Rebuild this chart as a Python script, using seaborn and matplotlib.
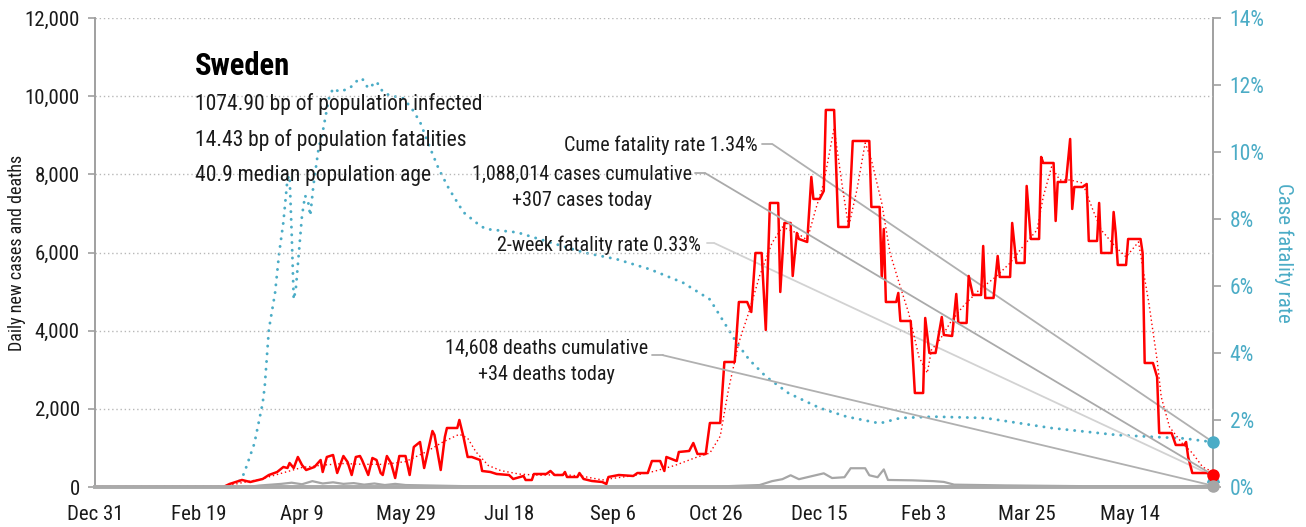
from __future__ import annotations

import matplotlib

matplotlib.use("Agg")
import matplotlib.dates as mdates
import matplotlib.pyplot as plt
import pandas as pd
import seaborn as sns
from matplotlib.ticker import FuncFormatter

START = pd.Timestamp("2019-12-31")

# Daily new cases (vertices), day offset from Dec 31 2019
case_day = [
    0, 62, 65, 71, 75, 81, 84, 88, 91, 93,
    94, 96, 98, 100, 102, 106, 109, 110, 112, 115,
    117, 120, 122, 124, 126, 128, 129, 132, 134, 136,
    138, 139, 141, 143, 145, 147, 150, 152, 154, 157,
    159, 163, 164, 167, 169, 170, 175, 176, 178, 180,
    182, 186, 187, 191, 194, 200, 202, 207, 208, 211,
    212, 218, 220, 222, 226, 227, 228, 233, 234, 236,
    240, 245, 247, 248, 253, 260, 262, 267, 269, 273,
    275, 276, 281, 282, 287, 289, 291, 295, 297, 302,
    304, 309, 311, 315, 317, 319, 322, 324, 326, 330,
    331, 333, 336, 337, 339, 340, 344, 346, 347, 350,
    352, 353, 357, 359, 364, 366, 374, 375, 379, 380,
    381, 382, 387, 388, 389, 394, 396, 400, 401, 403,
    406, 409, 410, 414, 416, 417, 421, 422, 424, 428,
    429, 430, 434, 436, 437, 442, 443, 445, 449, 450,
    452, 456, 457, 458, 463, 464, 465, 469, 471, 472,
    473, 477, 479, 480, 484, 485, 486, 491, 492, 493,
    494, 498, 499, 505, 506, 507, 511, 513, 514, 520,
    522, 526, 527, 528, 530, 537, 540,
]
case_val = [
    0, 0, 77, 180, 128, 205, 307, 384, 512, 486,
    614, 486, 768, 563, 435, 512, 691, 384, 768, 819,
    358, 793, 640, 307, 768, 793, 691, 307, 742, 691,
    358, 307, 793, 614, 230, 793, 793, 307, 1024, 1152,
    486, 1433, 1331, 435, 1280, 1510, 1510, 1715, 1280, 768,
    768, 691, 410, 384, 333, 307, 205, 282, 179, 179,
    333, 333, 410, 307, 307, 384, 256, 256, 358, 205,
    154, 128, 77, 256, 307, 282, 358, 358, 665, 665,
    410, 768, 665, 896, 922, 1126, 845, 845, 1638, 1638,
    3199, 3199, 4734, 4734, 4478, 5988, 5988, 4018, 7268, 7268,
    4990, 6756, 6756, 5399, 6500, 6346, 6270, 7933, 7370, 7370,
    7575, 9648, 9648, 6653, 6653, 8854, 8854, 7165, 7165, 5374,
    6602, 4734, 4734, 4965, 4248, 4248, 2405, 2405, 4325, 3429,
    3429, 4350, 3890, 3864, 4939, 4197, 4197, 5400, 4913, 4913,
    6167, 4837, 4837, 5911, 5374, 5374, 6756, 5732, 5732, 7703,
    6346, 6346, 8445, 8291, 8291, 6807, 7805, 7805, 8905, 7114,
    7677, 7677, 7754, 6295, 6295, 7268, 5988, 5988, 7037, 6500,
    5681, 5681, 6346, 6346, 5988, 3173, 3173, 2815, 1382, 1382,
    1075, 1075, 1152, 768, 358, 358, 307,
]

# 7-day average of new cases
avg_day = [
    0, 62, 70, 80, 90, 100, 110, 120, 130, 140,
    150, 160, 168, 176, 180, 184, 190, 196, 205, 215,
    225, 235, 245, 250, 260, 270, 280, 290, 297, 302,
    306, 311, 316, 321, 327, 332, 339, 344, 348, 352,
    357, 361, 364, 368, 372, 375, 380, 384, 389, 393,
    398, 402, 404, 408, 413, 419, 427, 435, 442, 448,
    455, 458, 462, 466, 471, 477, 482, 486, 493, 498,
    504, 509, 513, 515, 519, 525, 530, 535, 540,
]
avg_val = [
    0, 0, 100, 200, 350, 500, 560, 600, 580, 580,
    650, 900, 1150, 1350, 1250, 900, 550, 420, 330, 300,
    320, 280, 180, 220, 290, 400, 550, 750, 870, 1300,
    2500, 3700, 4500, 5400, 6244, 6653, 6500, 6320, 7088, 7780,
    9187, 7677, 6653, 7600, 8803, 8368, 7268, 5988, 5118, 4453,
    3327, 2917, 3506, 3762, 4197, 4606, 5041, 5374, 5732, 6141,
    6577, 7421, 8189, 7856, 7856, 7780, 7088, 6577, 6141, 5886,
    6270, 4709, 3250, 2303, 1535, 1126, 870, 512, 384,
]

# Daily new deaths
death_day = [
    0, 70, 75, 80, 85, 90, 95, 100, 105, 110,
    115, 120, 125, 130, 135, 140, 145, 150, 160, 170,
    180, 190, 200, 220, 250, 280, 300, 310, 321, 327,
    332, 336, 340, 344, 348, 352, 356, 362, 365, 372,
    374, 378, 381, 383, 395, 405, 410, 415, 440, 480,
    520, 540,
]
death_val = [
    0, 0, 10, 40, 60, 80, 110, 70, 150, 90,
    120, 80, 100, 60, 90, 50, 80, 50, 40, 30,
    20, 10, 5, 3, 2, 5, 10, 30, 50, 150,
    200, 300, 200, 250, 300, 350, 230, 250, 480, 480,
    300, 250, 450, 180, 170, 150, 130, 60, 40, 20,
    10, 34,
]

# Cumulative case fatality rate (%), right axis
cfr_day = [
    0, 67, 70, 72, 77, 81, 82, 84, 87, 89,
    91, 93, 94, 95, 96, 97, 98.5, 100, 101.5, 103,
    104, 105.5, 108, 110, 113, 115, 118, 123, 126, 129,
    132, 136, 139, 142, 149, 153, 157, 162, 166, 171,
    178, 186, 189, 204, 220, 236, 252, 268, 284, 297,
    303, 310, 316, 324, 335, 350, 363, 379, 389, 405,
    430, 462, 494, 526, 540,
]
cfr_val = [
    0, 0, 0.2, 0.4, 1.3, 2.5, 3.0, 4.7, 5.8, 7.0,
    7.9, 9.2, 9.3, 7.6, 5.6, 5.9, 7.0, 8.1, 8.7, 8.5,
    8.1, 9.0, 10.1, 10.6, 11.6, 11.9, 11.8, 11.9, 12.1, 12.2,
    11.9, 12.1, 11.8, 11.7, 11.6, 11.3, 10.9, 10.1, 9.5, 8.9,
    8.2, 7.8, 7.7, 7.6, 7.3, 7.0, 6.8, 6.5, 6.1, 5.6,
    5.0, 4.3, 3.8, 3.3, 2.8, 2.36, 2.1, 1.9, 2.06, 2.1,
    2.06, 1.76, 1.55, 1.45, 1.34,
]

today_cases = 307
today_deaths = 34
cume_cfr = 1.34
two_week_cfr = 0.33
last_day = 540

info_lines = [
    "1074.90 bp of population infected",
    "14.43 bp of population fatalities",
    "40.9 median population age",
]

RED = "#ff0000"
TEAL = "#4bacc6"
GREY = "#a6a6a6"
TXT = "#1a1a1a"


def to_dates(days):
    return START + pd.to_timedelta(days, unit="D")


sns.set_theme(style="white")
plt.rcParams["font.family"] = ["Roboto Condensed", "DejaVu Sans"]

fig = plt.figure(figsize=(13.06, 5.27), dpi=100)
ax = fig.add_axes([0.0727, 0.0759, 0.8561, 0.8899])
ax2 = ax.twinx()

cases = pd.DataFrame({"date": to_dates(case_day), "value": case_val})
avg = pd.DataFrame({"date": to_dates(avg_day), "value": avg_val})
deaths = pd.DataFrame({"date": to_dates(death_day), "value": death_val})
cfr = pd.DataFrame({"date": to_dates(cfr_day), "value": cfr_val})

sns.lineplot(data=cfr, x="date", y="value", ax=ax2, color=TEAL, linewidth=2.1,
             linestyle=(0, (0.05, 2.6)), dash_capstyle="round", legend=False)
sns.lineplot(data=deaths, x="date", y="value", ax=ax, color=GREY, linewidth=1.6, legend=False)
sns.lineplot(data=cases, x="date", y="value", ax=ax, color=RED, linewidth=1.8, legend=False)
sns.lineplot(data=avg, x="date", y="value", ax=ax, color=RED, linewidth=1.0,
             linestyle=(0, (1, 2)), legend=False)

end = to_dates([last_day])[0]
end_num = mdates.date2num(end)
ax.plot([end], [today_cases], "o", color=RED, ms=8, clip_on=False, zorder=6)
ax.plot([end], [today_deaths], "o", color=GREY, ms=8, clip_on=False, zorder=6)
ax2.plot([end], [cume_cfr], "o", color=TEAL, ms=8, clip_on=False, zorder=6)
ax2.plot([end], [two_week_cfr], "^", color=TEAL, ms=9, clip_on=False, zorder=6)

ax.set_zorder(ax2.get_zorder() + 1)
ax.patch.set_visible(False)

ax.set_xlim(START, end)
ax.set_ylim(0, 12000)
ax2.set_ylim(0, 14)
ticks = pd.date_range(START, periods=11, freq="50D")
ax.set_xticks(ticks)
ax.set_xticklabels([f"{d:%b} {d.day}" for d in ticks])
ax.set_yticks(range(0, 12001, 2000))
ax.yaxis.set_major_formatter(FuncFormatter(lambda v, _: f"{v:,.0f}"))
ax2.set_yticks(range(0, 15, 2))
ax2.yaxis.set_major_formatter(FuncFormatter(lambda v, _: f"{v:.0f}%"))

ax.yaxis.grid(True, linestyle=(0, (1, 2)), color="#b8b8b8", linewidth=1.0)
ax.xaxis.grid(False)
ax.set_xlabel("")
ax.set_ylabel("Daily new cases and deaths", fontsize=13, color=TXT)
ax.yaxis.set_label_coords(-0.0617, 0.5)
ax2.set_ylabel("Case fatality rate", fontsize=15, color=TEAL, rotation=270)
ax2.yaxis.set_label_coords(1.072, 0.5)

for a in (ax, ax2):
    for s in a.spines.values():
        s.set_visible(False)
ax.spines["left"].set_visible(True)
ax.spines["left"].set_color("#a0a0a0")
ax.spines["left"].set_linewidth(1.4)
ax.spines["bottom"].set_visible(True)
ax.spines["bottom"].set_color("#aaaaaa")
ax.spines["bottom"].set_linewidth(2.8)
ax2.spines["right"].set_visible(True)
ax2.spines["right"].set_color("#a0a0a0")
ax2.spines["right"].set_linewidth(1.4)

ax.tick_params(axis="x", direction="out", length=6, width=1.4, color="#a0a0a0",
               labelsize=15, labelcolor=TXT, pad=7)
ax.tick_params(axis="y", direction="out", length=5, width=1.2, color="#a0a0a0",
               labelsize=15, labelcolor=TXT, pad=6)
ax2.tick_params(axis="y", direction="out", length=6, width=1.2, color="#a0a0a0",
                labelsize=15.5, labelcolor=TEAL, pad=6)

# title block
ax.text(0.0894, 0.898, "Sweden", transform=ax.transAxes, fontsize=22,
        fontweight="bold", color="black", va="center", ha="left")
for i, line in enumerate(info_lines):
    ax.text(0.0894, 0.817 - 0.0765 * i, line, transform=ax.transAxes,
            fontsize=15.5, color=TXT, va="center", ha="left")

# call-outs with leader lines to the end markers
callouts = [
    # text lines, text x, text y, ha, elbow x0, elbow x1, elbow y, axis, target, colour
    (["Cume fatality rate 1.34%"], 0.593, 0.729, "right", 0.597, 0.606, 0.731, ax2, cume_cfr, "#b0b0b0"),
    (["1,088,014 cases cumulative", "+307 cases today"], 0.4356, 0.667, "center", 0.537, 0.546, 0.669, ax, today_cases, "#aaaaaa"),
    (["2-week fatality rate 0.33%"], 0.542, 0.516, "right", 0.547, 0.554, 0.520, ax2, two_week_cfr, "#d2d2d2"),
    (["14,608 deaths cumulative", "+34 deaths today"], 0.404, 0.296, "center", 0.498, 0.508, 0.281, ax, today_deaths, "#b0b0b0"),
]
for lines, tx, ty, ha, ex0, ex1, ey, target_ax, target, col in callouts:
    for j, line in enumerate(lines):
        ax.text(tx, ty - 0.056 * j, line, transform=ax.transAxes, fontsize=14.5,
                color=TXT, va="center", ha=ha)
    ax.plot([ex0, ex1], [ey, ey], transform=ax.transAxes, color=col, lw=1.3,
            clip_on=False, zorder=5)
    target_ax.annotate("", xy=(end_num, target), xycoords="data",
                       xytext=(ex1, ey), textcoords="axes fraction",
                       arrowprops=dict(arrowstyle="-", color=col, lw=1.3,
                                       shrinkA=0, shrinkB=0), zorder=5)

fig.savefig("out.png", dpi=100)
plt.close(fig)
